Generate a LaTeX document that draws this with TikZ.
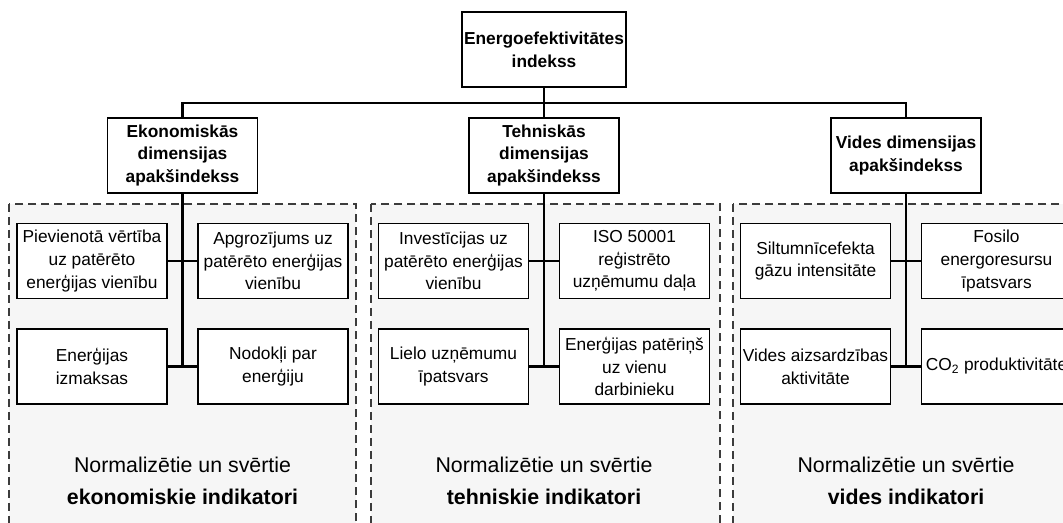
\documentclass[tikz,border=0pt]{standalone}
\usepackage{fontspec}
\setmainfont{Liberation Sans}
\usepackage{tikz}
\usetikzlibrary{positioning}
\usetikzlibrary{math}

\definecolor{panelgray}{RGB}{246,246,246}
\definecolor{dashgray}{RGB}{60,60,60}

\begin{document}
\begin{tikzpicture}[x=0.75pt,y=-0.75pt,
    box/.style={draw=black, line width=0.9pt, fill=white, align=center, inner sep=1pt},
    titlebox/.style={box, minimum width=112.5pt, minimum height=56.25pt,
      font=\fontsize{13}{17}\selectfont\bfseries},
    leafbox/.style={box, minimum width=112.5pt, minimum height=56.25pt,
      font=\fontsize{13}{17}\selectfont},
    panel/.style={draw=dashgray, line width=0.8pt, dash pattern=on 6pt off 3.75pt, fill=panelgray},
    conn/.style={line width=2pt},
    caption/.style={align=center, inner sep=0pt, font=\fontsize{16}{24}\selectfont}]
      \tikzmath{
        \rowA = 261;
        \rowB = 366.5;
        \dx = 90.5;
      }
      \useasboundingbox (0,0) rectangle (1063,522);
      \clip (0,0) rectangle (1063,522);

      % dashed groups
      \draw[panel] (9,204) rectangle (356,540);
      \draw[panel] (371,204) rectangle (720,540);
      \draw[panel] (733,204) rectangle (1080,540);

      % index and sub-indices
      \node[titlebox, minimum width=123pt] (index) at (544,49.5) {Energoefektivitātes\\indekss};
      \node[titlebox] (eko) at (182.5,155.5) {Ekonomiskās\\dimensijas\\apakšindekss};
      \node[titlebox] (teh) at (544,155.5) {Tehniskās\\dimensijas\\apakšindekss};
      \node[titlebox] (vid) at (906,155.5) {Vides dimensijas\\apakšindekss};

      \coordinate (bar) at (544,103);
      \draw[conn] (index.south) -- (teh.north);
      \draw[conn] (eko.north) |- (bar) -| (vid.north);

      % economic indicators
      \node[leafbox] (ekoA) at (182.5-\dx,\rowA) {Pievienotā vērtība\\uz patērēto\\enerģijas vienību};
      \node[leafbox] (ekoB) at (182.5+\dx,\rowA) {Apgrozījums uz\\patērēto enerģijas\\vienību};
      \node[leafbox] (ekoC) at (182.5-\dx,\rowB) {Enerģijas\\izmaksas};
      \node[leafbox] (ekoD) at (182.5+\dx,\rowB) {Nodokļi par\\enerģiju};

      % technical indicators
      \node[leafbox] (tehA) at (544-\dx,\rowA) {Investīcijas uz\\patērēto enerģijas\\vienību};
      \node[leafbox] (tehB) at (544+\dx,\rowA) {ISO 50001\\reģistrēto\\uzņēmumu daļa};
      \node[leafbox] (tehC) at (544-\dx,\rowB) {Lielo uzņēmumu\\īpatsvars};
      \node[leafbox] (tehD) at (544+\dx,\rowB) {Enerģijas patēriņš\\uz vienu\\darbinieku};

      % environmental indicators
      \node[leafbox] (vidA) at (906-\dx,\rowA) {Siltumnīcefekta\\gāzu intensitāte};
      \node[leafbox] (vidB) at (906+\dx,\rowA) {Fosilo\\energoresursu\\īpatsvars};
      \node[leafbox] (vidC) at (906-\dx,\rowB) {Vides aizsardzības\\aktivitāte};
      \node[leafbox] (vidD) at (906+\dx,\rowB) {CO\textsubscript{2} produktivitāte};

      \draw[conn] (eko.south) -- (eko.south |- ekoC.east);
      \draw[conn] (ekoA.east) -- (ekoB.west);
      \draw[conn] (ekoC.east) -- (ekoD.west);
      \draw[conn] (teh.south) -- (teh.south |- tehC.east);
      \draw[conn] (tehA.east) -- (tehB.west);
      \draw[conn] (tehC.east) -- (tehD.west);
      \draw[conn] (vid.south) -- (vid.south |- vidC.east);
      \draw[conn] (vidA.east) -- (vidB.west);
      \draw[conn] (vidC.east) -- (vidD.west);

      % captions
      \node[caption] (ekoText) at (182.5,481) {Normalizētie un svērtie\\\textbf{ekonomiskie indikatori}};
      \node[caption] (tehText) at (544,481) {Normalizētie un svērtie\\\textbf{tehniskie indikatori}};
      \node[caption] (vidText) at (906,481) {Normalizētie un svērtie\\\textbf{vides indikatori}};
\end{tikzpicture}
\end{document}
